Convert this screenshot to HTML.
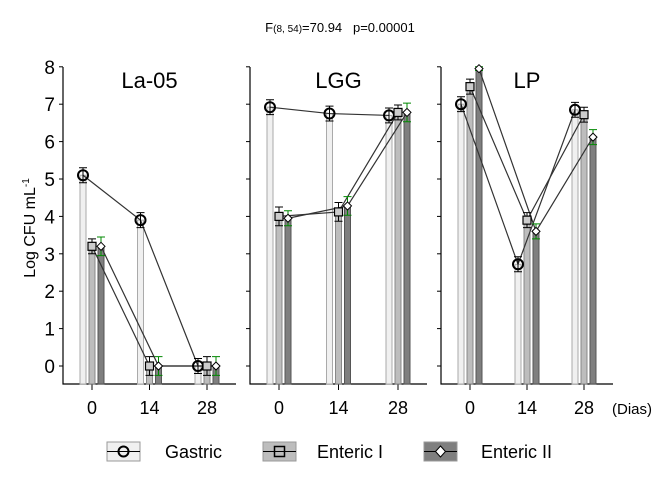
<!DOCTYPE html>
<html><head><meta charset="utf-8"><style>
body{margin:0;background:#fff}
svg{display:block;font-family:"Liberation Sans",sans-serif}
</style></head><body>
<svg id="chart" width="672" height="480" xmlns="http://www.w3.org/2000/svg">
<text x="340" y="32" font-size="13" text-anchor="middle" xml:space="preserve" style="white-space:pre">F<tspan font-size="10">(8, 54)</tspan>=70.94   p=0.00001</text>
<text transform="translate(35,228) rotate(-90)" font-size="16" text-anchor="middle">Log CFU mL<tspan font-size="10" dy="-6">-1</tspan></text>
<text x="632" y="414" font-size="15" text-anchor="middle">(Dias)</text>
<g id="plots"></g>
<g id="legend"></g>
</svg>
<script>
const panels=["La-05","LGG","LP"];
const days=["0","14","28"];
const series=["Gastric","Enteric I","Enteric II"];
const gastric=[[5.1,3.9,0],[6.92,6.75,6.7],[7.0,2.72,6.85]];
const enteric1=[[3.2,0,0],[4.0,4.12,6.78],[7.47,3.9,6.72]];
const enteric2=[[3.2,0,0],[3.95,4.28,6.78],[7.95,3.6,6.12]];
const errG=[[0.2,0.2,0.2],[0.2,0.2,0.2],[0.2,0.2,0.2]];
const errE1=[[0.2,0.25,0.25],[0.25,0.25,0.2],[0.2,0.2,0.2]];
const errE2=[[0.25,0.25,0.25],[0.2,0.25,0.25],[0.05,0.2,0.2]];
const yTicks=[0,1,2,3,4,5,6,7,8];
const vals=[gastric,enteric1,enteric2];
const errs=[errG,errE1,errE2];
const fills=["#f0f0f0","#bdbdbd","#7f7f7f"];
const strokes=["#aaa","#888","#555"];
const NS="http://www.w3.org/2000/svg";
const panelX=[[63,236],[250,427],[441,613]];
const y=v=>366-v*37.4;
const xc=(p,d)=>{const [a,b]=panelX[p];return a+29+d*((b-a-58)/2);};
function mk(t,a,par){const e=document.createElementNS(NS,t);for(const k in a)e.setAttribute(k,a[k]);par.appendChild(e);return e;}
const g=document.getElementById('plots');
panels.forEach((name,p)=>{
  const [a,b]=panelX[p];
  const pg=mk('g',{},g);
  
  
  const ax=mk('path',{d:`M${a} 67V384H${b}`,fill:'none',stroke:'#000','stroke-width':1.2},pg);
  
  
  yTicks.forEach(t=>{
    mk('line',{x1:a-4,x2:a,y1:y(t),y2:y(t),stroke:'#000'},pg);
    if(p===0){const tx=mk('text',{x:a-8,y:y(t)+7,'font-size':19,'text-anchor':'end'},pg);tx.textContent=t;
      
      }
  });
  days.forEach((d,i)=>{
    const x=xc(p,i);
    mk('line',{x1:x,x2:x,y1:384,y2:390,stroke:'#000'},pg);
    const tx=mk('text',{x:x,y:414,'font-size':18,'text-anchor':'middle'},pg);tx.textContent=d;
    
    
  });
  const tt=mk('text',{x:(a+b)/2,y:88,'font-size':22,'text-anchor':'middle'},pg);tt.textContent=name;
  
  
  for(let s=0;s<3;s++)for(let i=0;i<3;i++){
    const x=xc(p,i)+(s-1)*9, v=vals[s][p][i];
    const r=mk('rect',{x:x-3,y:y(v),width:6,height:384-y(v),fill:fills[s],stroke:strokes[s],'stroke-width':1},pg);
    
    
  }
  for(let s=0;s<3;s++){
    const pts=[0,1,2].map(i=>`${xc(p,i)+(s-1)*9},${y(vals[s][p][i])}`).join(' ');
    const l=mk('polyline',{points:pts,fill:'none',stroke:'#333','stroke-width':1.2},pg);
    
    
  }
  for(let s=0;s<3;s++)for(let i=0;i<3;i++){
    const x=xc(p,i)+(s-1)*9, v=vals[s][p][i], e=errs[s][p][i];
    const c=s===2?'#080':'#000';
    mk('path',{d:`M${x} ${y(v+e)}V${y(v-e)}M${x-4} ${y(v+e)}H${x+4}M${x-4} ${y(v-e)}H${x+4}`,stroke:c,fill:'none'},pg);
    let m;
    if(s===0)m=mk('circle',{cx:x,cy:y(v),r:5,fill:'none',stroke:'#000','stroke-width':2},pg);
    else if(s===1)m=mk('rect',{x:x-4,y:y(v)-4,width:8,height:8,fill:'#ccc',stroke:'#000','stroke-width':1.2},pg);
    else m=mk('path',{d:`M${x} ${y(v)-4}L${x+4} ${y(v)}L${x} ${y(v)+4}L${x-4} ${y(v)}Z`,fill:'#fff',stroke:'#000'},pg);
    
    
  }
});
const lg=document.getElementById('legend');
const lx=[107,263,424], tx=[165,317,481];
series.forEach((s,k)=>{
  const eg=mk('g',{},lg);
  
  
  mk('rect',{x:lx[k],y:442,width:33,height:19,fill:fills[k],stroke:'#999'},eg);
  mk('line',{x1:lx[k],x2:lx[k]+33,y1:451.5,y2:451.5,stroke:'#000'},eg);
  const cx=lx[k]+16.5;
  if(k===0)mk('circle',{cx:cx,cy:451.5,r:5,fill:'none',stroke:'#000','stroke-width':2},eg);
  else if(k===1)mk('rect',{x:cx-5,y:446.5,width:10,height:10,fill:'none',stroke:'#000','stroke-width':1.5},eg);
  else mk('path',{d:`M${cx} 446L${cx+5} 451.5L${cx} 457L${cx-5} 451.5Z`,fill:'#fff',stroke:'#000'},eg);
  const t=mk('text',{x:tx[k],y:458,'font-size':18},eg);t.textContent=s;
});
</script>
</body></html>
